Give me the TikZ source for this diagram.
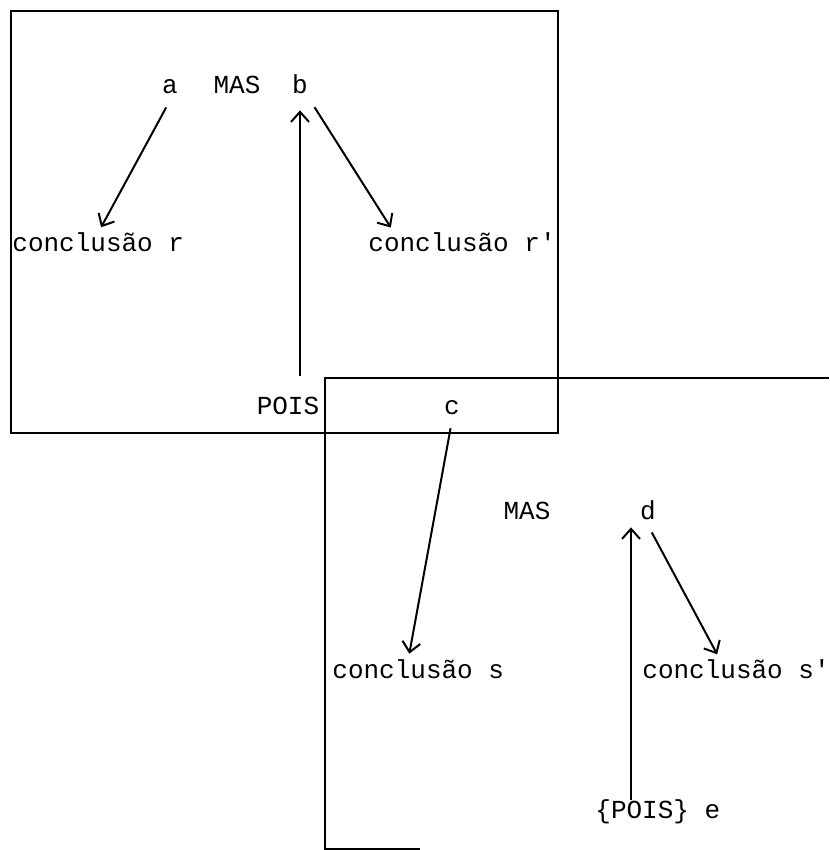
\documentclass[tikz,border=0pt]{standalone}
\usepackage{fontspec}
\setmonofont{Liberation Mono}
\usepackage{tikz}
\usetikzlibrary{arrows.meta, positioning, calc}

\tikzset{
  word/.style={font=\ttfamily\fontsize{13}{15}\selectfont, inner sep=1pt,
    text height=8pt, text depth=2pt},
  frame/.style={line width=1.4pt},
  link/.style={->, line width=1pt, shorten <=4pt, shorten >=3pt}
}

\begin{document}
\begin{tikzpicture}[>={Straight Barb[length=5pt,width=9pt]}, x=0.5pt, y=-0.5pt]
  \useasboundingbox (0,0) rectangle (829,850);
  % ---- Top frame: a MAS b ----
  \begin{scope}
    \draw[frame] (11,11) rectangle (558,433);
    \node[word] (a) at (170,88) {a};
    \node[word] (masA) at (237,88) {MAS};
    \node[word] (b) at (300,88) {b};
    \node[word, anchor=west] (concR) at (10,245) {conclusão r};
    \node[word, anchor=west] (concRp) at (366,245) {conclusão r'};
    \node[word] (poisA) at (288,408) {POIS};
    \draw[link] (a.south) -- (concR.north);
    \draw[link] (b.south east) -- ([xshift=14pt]concRp.north west);
    \draw[link, shorten <=10pt, shorten >=5pt] (b.south |- poisA.north) -- (b.south);
  \end{scope}
  % ---- Bottom frame: c MAS d ----
  \begin{scope}
    \draw[frame] (829,378) -- (325,378) -- (325,849) -- (420,849);
    \node[word] (c) at (452,408) {c};
    \node[word] (masB) at (527,513) {MAS};
    \node[word] (d) at (648,513) {d};
    \node[word, anchor=west] (concS) at (330,672) {conclusão s};
    \node[word, anchor=west] (concSp) at (640,672) {conclusão s'};
    \node[word, anchor=west] (poisE) at (593,812) {\{POIS\} e};
    \coordinate (eTop) at ([xshift=19pt]poisE.north west);
    \draw[link] (c.south) -- ([xshift=-5pt]concS.north);
    \draw[link] (d.south) -- ([xshift=40pt]concSp.north west);
    \draw[link, shorten <=0pt, shorten >=1pt] (eTop) -- (eTop |- d.south);
  \end{scope}
\end{tikzpicture}
\end{document}
